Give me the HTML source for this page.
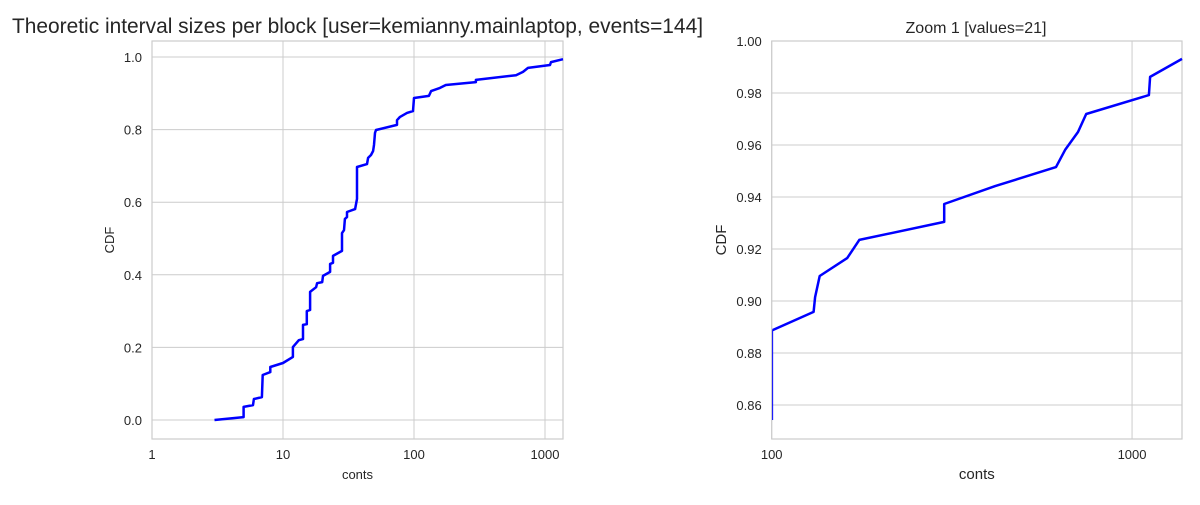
<!DOCTYPE html>
<html><head><meta charset="utf-8"><style>
body{margin:0;background:#fff;}
svg text{font-family:"Liberation Sans",sans-serif;fill:#262626;}
</style></head><body>
<svg id="c" width="1200" height="500" xmlns="http://www.w3.org/2000/svg">
<text x="12" y="33" font-size="21" textLength="691" lengthAdjust="spacingAndGlyphs">Theoretic interval sizes per block [user=kemianny.mainlaptop, events=144]</text>
<text x="976" y="33" font-size="16" text-anchor="middle">Zoom 1 [values=21]</text>
</svg>
<script>
// Left chart data
const leftX = [3,5,5,5.9,6,6.9,7,8,8,10,11.9,11.9,13.2,14.2,14.2,15.2,15.2,16.1,16.1,17.9,18.2,19.9,20.2,22.9,22.9,24.1,24.1,28.2,28.2,29.2,29.7,30.8,30.8,35.5,36.7,36.7,43.8,44.6,47,48.7,49.5,50.4,51.3,74.1,74.1,78.2,88.4,98.2,100,130,135,158,175,297,297,601,679,742,1092,1111,1372];
const leftY = [0,0.008,0.036,0.041,0.058,0.063,0.124,0.132,0.146,0.157,0.174,0.201,0.220,0.223,0.262,0.264,0.300,0.303,0.353,0.366,0.377,0.380,0.397,0.408,0.430,0.433,0.452,0.466,0.515,0.523,0.554,0.559,0.573,0.581,0.609,0.697,0.705,0.722,0.730,0.741,0.758,0.791,0.799,0.813,0.826,0.835,0.846,0.851,0.887,0.893,0.906,0.915,0.923,0.931,0.937,0.950,0.959,0.970,0.978,0.986,0.994];
const leftXTicks = [1,10,100,1000];
const leftYTicks = [0,0.2,0.4,0.6,0.8,1.0];
// Zoom chart data
const zoomX = [100.6,100.6,130.7,132,135.9,162,175,301,301,417,615,652,708,746,1114,1122,1376];
const zoomY = [0.8542,0.8888,0.8958,0.9015,0.9096,0.9165,0.9235,0.9304,0.9373,0.9442,0.9515,0.9581,0.9650,0.9719,0.9792,0.9862,0.9931];
const zoomXTicks = [100,1000];
const zoomYTicks = [0.86,0.88,0.90,0.92,0.94,0.96,0.98,1.00];

const svg = document.getElementById('c');
const NS = 'http://www.w3.org/2000/svg';
function mk(tag, attrs){const e=document.createElementNS(NS,tag);for(const k in attrs)e.setAttribute(k,attrs[k]);svg.appendChild(e);return e;}

function chart(o){
  const sx=v=>o.x0+(Math.log10(v)-Math.log10(o.xmin))/(Math.log10(o.xmax)-Math.log10(o.xmin))*(o.x1-o.x0);
  const sy=v=>o.y1-(v-o.ymin)/(o.ymax-o.ymin)*(o.y1-o.y0);
  o.xt.forEach(t=>{
    const g=mk('line',{x1:sx(t),x2:sx(t),y1:o.y0,y2:o.y1,stroke:'#cccccc','stroke-width':1});
    
    
    const l=mk('text',{x:sx(t),y:o.y1+20,'font-size':13,'text-anchor':'middle'});
    l.textContent=t;
    
    
  });
  o.yt.forEach(t=>{
    const g=mk('line',{x1:o.x0,x2:o.x1,y1:sy(t),y2:sy(t),stroke:'#cccccc','stroke-width':1});
    
    
    const l=mk('text',{x:o.x0-10,y:sy(t)+5,'font-size':13,'text-anchor':'end'});
    l.textContent=t.toFixed(o.dec);
    
    
  });
  const fr=mk('rect',{x:o.x0,y:o.y0,width:o.x1-o.x0,height:o.y1-o.y0,fill:'none',stroke:'#cccccc','stroke-width':1.2});
  
  
  const xl=mk('text',{x:(o.x0+o.x1)/2,y:o.y1+40,'font-size':o.lf,'text-anchor':'middle'});
  xl.textContent='conts';
  
  
  const yl=mk('text',{x:0,y:0,'font-size':o.lf,'text-anchor':'middle',transform:`translate(${o.ylx},${(o.y0+o.y1)/2}) rotate(-90)`});
  yl.textContent='CDF';
  
  
  const s=o.thinFirst?1:0;
  if(o.thinFirst){
    const tl=mk('line',{x1:sx(o.xs[0]),y1:sy(o.ys[0]),x2:sx(o.xs[1]),y2:sy(o.ys[1]),stroke:'#0000ff','stroke-width':1});
    
    
  }
  const pts=o.xs.slice(s).map((v,i)=>sx(v).toFixed(1)+','+sy(o.ys[i+s]).toFixed(1)).join(' ');
  const ln=mk('polyline',{points:pts,fill:'none',stroke:'#0000ff','stroke-width':2.5,'stroke-linejoin':'round'});
  
  
}
chart({p:'main',x0:152,x1:563,y0:41,y1:439,xmin:1,xmax:1372,ymin:-0.0523,ymax:1.0441,xt:leftXTicks,yt:leftYTicks,dec:1,xs:leftX,ys:leftY,ylx:114,lf:13});
chart({p:'zoom',x0:771.7,x1:1182,y0:41,y1:439,xmin:100,xmax:1376,ymin:0.8469,ymax:1.0,xt:zoomXTicks,yt:zoomYTicks,dec:2,xs:zoomX,ys:zoomY,ylx:726,lf:15,thinFirst:true});
</script>
</body></html>
